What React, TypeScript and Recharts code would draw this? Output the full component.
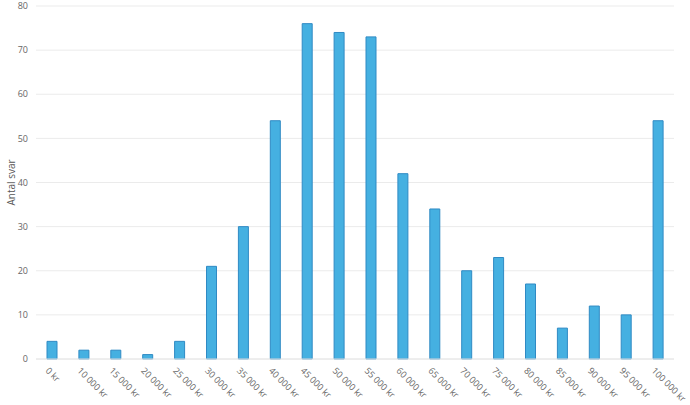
import { BarChart, Bar, XAxis, YAxis, CartesianGrid } from "recharts";

const categories = [
  "0 kr", "10 000 kr", "15 000 kr", "20 000 kr", "25 000 kr", "30 000 kr", "35 000 kr",
  "40 000 kr", "45 000 kr", "50 000 kr", "55 000 kr", "60 000 kr", "65 000 kr", "70 000 kr",
  "75 000 kr", "80 000 kr", "85 000 kr", "90 000 kr", "95 000 kr", "100 000 kr",
];
const answers = [4, 2, 2, 1, 4, 21, 30, 54, 76, 74, 73, 42, 34, 20, 23, 17, 7, 12, 10, 54];
const yTicks = [0, 10, 20, 30, 40, 50, 60, 70, 80];

const data = categories.map((name, i) => ({ name, svar: answers[i] }));

const FONT = "'Open Sans', sans-serif";

function AngledTick(props: any) {
  const { x, y, payload } = props;
  return (
    <g transform={`translate(${x},${y})`}>
      <text
        x={0}
        y={0}
        dx={-2}
        dy={8}
        transform="rotate(45)"
        textAnchor="start"
        fill="#666"
        fontSize={9}
        fontFamily={FONT}
      >
        {payload.value}
      </text>
    </g>
  );
}

export default function App() {
  return (
    <div style={{ position: "absolute", left: 0, top: 0, width: 690, height: 405, background: "#fff" }}>
      <BarChart
        width={690}
        height={405}
        data={data}
        margin={{ top: 6, right: 16, left: 0, bottom: 6 }}
      >
        <CartesianGrid vertical={false} stroke="#ebebeb" />
        <XAxis
          dataKey="name"
          interval={0}
          height={40}
          tickLine={false}
          axisLine={{ stroke: "#e6e6e6" }}
          tick={<AngledTick />}
        />
        <YAxis
          width={36}
          domain={[0, 80]}
          ticks={yTicks}
          tickLine={false}
          axisLine={false}
          tick={{ fill: "#666", fontSize: 9, fontFamily: FONT }}
          label={{
            value: "Antal svar",
            angle: -90,
            position: "insideLeft",
            offset: 11,
            style: { fill: "#555", fontSize: 10, fontFamily: FONT, textAnchor: "middle" },
          }}
        />
        <Bar
          dataKey="svar"
          barSize={10}
          fill="#45b0e1"
          stroke="#2f8ac4"
          strokeWidth={1}
          isAnimationActive={false}
        />
      </BarChart>
    </div>
  );
}
